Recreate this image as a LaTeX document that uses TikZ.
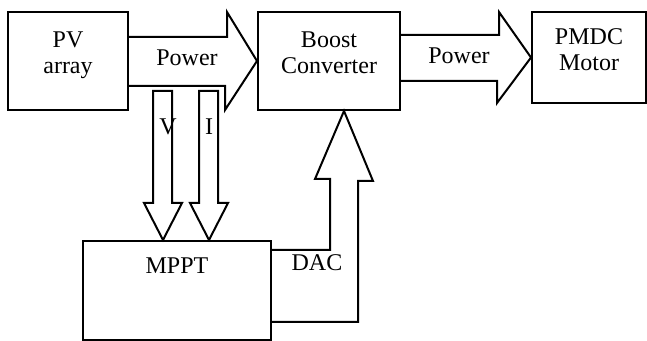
\documentclass[tikz,border=0pt]{standalone}
\usepackage{fontspec}
\setmainfont{Liberation Serif}
\usepackage{tikz}
\usetikzlibrary{positioning, calc}

\begin{document}
\begin{tikzpicture}[x=0.5pt, y=-0.5pt,
    font=\fontsize{12}{13}\selectfont,
    box/.style={draw, line width=1pt, rectangle, inner sep=0pt},
    boxtext/.style={anchor=north, align=center, inner sep=0pt, yshift=-10pt},
    arr/.style={draw, line width=1pt, fill=white},
    lbl/.style={inner sep=0pt}]
  \useasboundingbox (0,0) rectangle (647,341);

  % blocks
  \node[box, minimum width=60pt, minimum height=49pt,
        label={[boxtext]north:PV\\array}] (pv) at (68,61) {};
  \node[box, minimum width=71pt, minimum height=49pt,
        label={[boxtext]north:Boost\\Converter}] (boost) at (329,61) {};
  \node[box, minimum width=57pt, minimum height=45.5pt,
        label={[boxtext, yshift=1.5pt]north:PMDC\\Motor}] (pmdc) at (589,57.5) {};
  \node[box, minimum width=94pt, minimum height=49.5pt,
        label={[boxtext, yshift=1.5pt]north:MPPT}] (mppt) at (177,290.5) {};

  % power flow
  \draw[arr] ($(pv.east)+(0,-24)$) -- ++(98,0) -- ++(0,-25) -- (boost.west)
    -- ++(-32,49) -- ++(0,-24) -- ($(pv.east)+(0,25)$);
  \draw[arr] ($(boost.east)+(0,-26)$) -- ++(98,0) -- ++(0,-23) -- (pmdc.west)
    -- ++(-34,45.5) -- ++(0,-22) -- ($(boost.east)+(0,20)$);
  \node[lbl] (pw1) at (187,58) {Power};
  \node[lbl] (pw2) at (459,56) {Power};

  % sensed V and I
  \coordinate (vtip) at ($(mppt.north west)+(81,0)$);
  \coordinate (itip) at ($(mppt.north west)+(127,0)$);
  \draw[arr] (vtip) -- ++(-19,-37) -- ++(9,0) -- ++(0,-112) -- ++(19,0)
    -- ++(0,112) -- ++(10,0) -- cycle;
  \draw[arr] (itip) -- ++(-19,-37) -- ++(9,0) -- ++(0,-112) -- ++(19,0)
    -- ++(0,112) -- ++(10,0) -- cycle;
  \node[lbl] (vl) at (168,127) {V};
  \node[lbl] (il) at (209,127) {I};

  % duty signal
  \draw[arr, fill=none] ($(mppt.north east)+(0,10)$) -- ++(58,0) -- ++(0,-71)
    -- ++(-15,0) -- ($(boost.south)+(15,0)$) -- ++(29,70) -- ++(-15,0)
    -- ++(0,141) -- ($(mppt.south east)+(0,-19)$);
  \node[lbl] (dac) at (317,263) {DAC};
\end{tikzpicture}
\end{document}
